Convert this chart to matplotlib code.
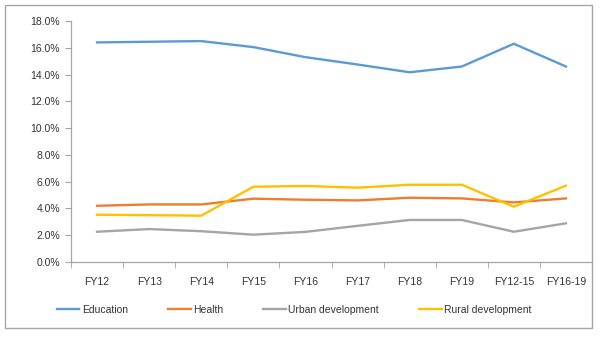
import matplotlib
matplotlib.use("Agg")
import matplotlib.pyplot as plt
from matplotlib.patches import Rectangle
from matplotlib.ticker import FuncFormatter, FixedLocator

categories = ["FY12", "FY13", "FY14", "FY15", "FY16", "FY17", "FY18", "FY19", "FY12-15", "FY16-19"]
education = [16.4, 16.45, 16.5, 16.05, 15.3, 14.75, 14.17, 14.6, 16.3, 14.6]
health = [4.2, 4.3, 4.3, 4.73, 4.65, 4.6, 4.8, 4.75, 4.45, 4.75]
urban = [2.26, 2.46, 2.3, 2.04, 2.25, 2.7, 3.14, 3.14, 2.26, 2.89]
rural = [3.53, 3.5, 3.46, 5.62, 5.68, 5.55, 5.77, 5.77, 4.13, 5.7]
series_names = ["Education", "Health", "Urban development", "Rural development"]
colors = ["#5B9BD5", "#ED7D31", "#A5A5A5", "#FFC000"]

plt.rcParams['font.family'] = ['Liberation Sans', 'DejaVu Sans']

fig = plt.figure(figsize=(6.0, 3.37), dpi=100)
fig.patches.append(Rectangle((5/600, 1-328/337), 587/600, 323/337, transform=fig.transFigure,
                             fill=False, edgecolor="#A6A6A6", linewidth=1.0))
ax = fig.add_axes([71/600, 1-262/337, 521/600, 241/337])

x = list(range(len(categories)))
for vals, name, c in zip([education, health, urban, rural], series_names, colors):
    ax.plot(x, vals, color=c, linewidth=1.7, label=name)

ax.set_xlim(-0.5, len(categories) - 0.5)
ax.set_ylim(0, 18)
ax.set_yticks([0, 2, 4, 6, 8, 10, 12, 14, 16, 18])
ax.yaxis.set_major_formatter(FuncFormatter(lambda v, p: f"{v:.1f}%"))
ax.set_xticks(x)
ax.set_xticklabels(categories)
ax.xaxis.set_minor_locator(FixedLocator([i - 0.5 for i in range(len(categories) + 1)]))
ax.tick_params(axis='x', which='major', length=0, pad=11, labelsize=7.5, colors="#333333")
ax.tick_params(axis='x', which='minor', length=4, color="#A6A6A6", direction='out')
ax.tick_params(axis='y', length=4, color="#A6A6A6", labelsize=7.5, labelcolor="#333333", pad=4)
for s in ["top", "right"]:
    ax.spines[s].set_visible(False)
for s in ["left", "bottom"]:
    ax.spines[s].set_color("#A6A6A6")
    ax.spines[s].set_linewidth(0.9)

fig.legend(loc="center", bbox_to_anchor=(0.49, 1-310/337), ncol=4, frameon=False,
           fontsize=7.5, handlelength=2.2, handletextpad=0.25, columnspacing=3.8,
           labelcolor="#333333")

fig.savefig("out.png", dpi=100)
